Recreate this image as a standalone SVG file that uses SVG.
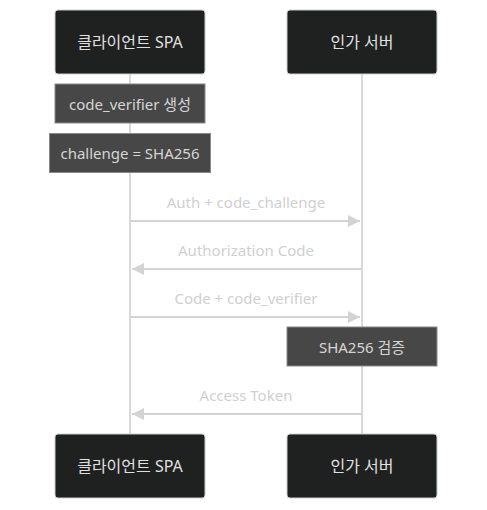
<svg xmlns="http://www.w3.org/2000/svg" width="487" height="510" viewBox="0 0 487 510">
<defs>
<style>
.actor rect{fill:#1f2020;stroke:#cccccc;stroke-width:1}
.actor text{fill:#e0e0e0;font-family:"Noto Sans","Noto Sans CJK KR",sans-serif;font-size:16px;text-anchor:middle;dominant-baseline:central}
.note rect{fill:#474747;stroke:#8a8a8a;stroke-width:1}
.note text{fill:#d6d6d6;font-family:"Noto Sans","Noto Sans CJK KR",sans-serif;font-size:15px;text-anchor:middle;dominant-baseline:central}
.life{stroke:#cccccc;stroke-width:1.5}
.msg{stroke:#d3d3d3;stroke-width:2;fill:none}
.lbl{fill:#d0d0d0;font-family:"Noto Sans","Noto Sans CJK KR",sans-serif;font-size:15px;text-anchor:middle;dominant-baseline:central}
</style>
<marker id="ah" viewBox="0 0 10 10" refX="10" refY="5" markerWidth="12" markerHeight="12" markerUnits="userSpaceOnUse" orient="auto">
<path d="M0,0 L10,5 L0,10 z" fill="#d3d3d3"/>
</marker>
</defs>
<rect width="487" height="510" fill="#ffffff"/>
<g id="lifelines">
<line class="life" x1="130" y1="74" x2="130" y2="434"/>
<line class="life" x1="362" y1="74" x2="362" y2="434"/>
</g>
<g id="actor-spa-top" class="actor"><rect x="55" y="10" width="150" height="64" rx="3"/><text x="130" y="42">클라이언트 SPA</text></g>
<g id="actor-auth-top" class="actor"><rect x="287" y="10" width="150" height="64" rx="3"/><text x="362" y="42">인가 서버</text></g>
<g id="note-verifier" class="note"><rect x="55" y="84" width="150" height="39"/><text x="130" y="104">code_verifier 생성</text></g>
<g id="note-challenge" class="note"><rect x="49.5" y="133.5" width="161" height="39"/><text x="130" y="153">challenge = SHA256</text></g>
<g id="note-verify" class="note"><rect x="287" y="327" width="150" height="39"/><text x="362" y="347">SHA256 검증</text></g>
<g id="connectors">
<line class="msg" x1="130" y1="221" x2="360" y2="221" marker-end="url(#ah)"/>
<text class="lbl" x="246" y="202">Auth + code_challenge</text>
<line class="msg" x1="362" y1="269" x2="132" y2="269" marker-end="url(#ah)"/>
<text class="lbl" x="246" y="250">Authorization Code</text>
<line class="msg" x1="130" y1="317" x2="360" y2="317" marker-end="url(#ah)"/>
<text class="lbl" x="246" y="298">Code + code_verifier</text>
<line class="msg" x1="362" y1="414" x2="132" y2="414" marker-end="url(#ah)"/>
<text class="lbl" x="246" y="395">Access Token</text>
</g>
<g id="actor-spa-bottom" class="actor"><rect x="55" y="434" width="150" height="64" rx="3"/><text x="130" y="466">클라이언트 SPA</text></g>
<g id="actor-auth-bottom" class="actor"><rect x="287" y="434" width="150" height="64" rx="3"/><text x="362" y="466">인가 서버</text></g>
</svg>
